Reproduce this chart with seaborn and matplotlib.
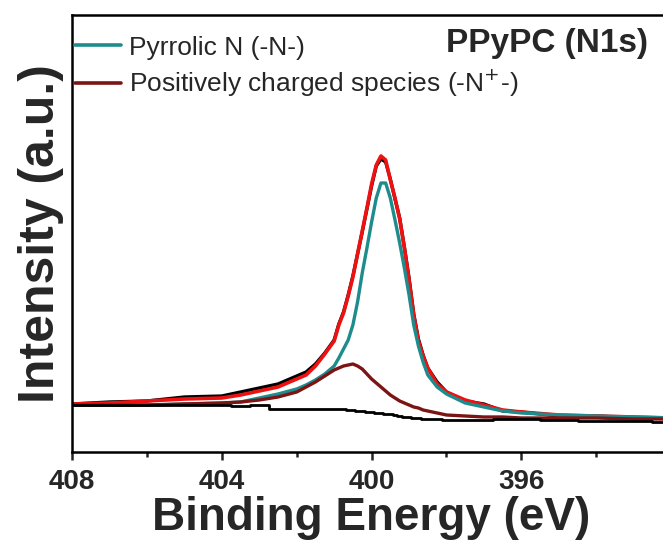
import numpy as np
import pandas as pd
import matplotlib
matplotlib.use("Agg")
import matplotlib.pyplot as plt
import seaborn as sns

# ---- data (intensity in arbitrary units) ----
energy = [408, 407, 406, 405, 404, 403.5, 403, 402.5, 402, 401.75, 401.5, 401.25, 401,
          400.875, 400.75, 400.625, 400.5, 400.375, 400.25, 400.125, 400,
          399.875, 399.75, 399.625, 399.5, 399.375, 399.25, 399.125, 399,
          398.875, 398.75, 398.625, 398.5,
          398.25, 398, 397.5, 397, 396.5, 396, 395, 394, 393, 392]

raw_data = [48, 50, 51, 55, 56, 60, 64, 68, 76, 80, 88, 99, 112,
            128, 140, 157, 176, 198, 220, 243, 266,
            286, 293, 290, 273, 253, 234, 205, 174,
            138, 113, 97, 84,
            70, 60, 51, 48, 41, 40, 36, 36, 34, 34]

envelope = [48, 49, 51, 53, 54, 57, 61, 65, 73, 77, 86, 98, 111,
            127, 139, 156, 175, 198, 221, 244, 268,
            287, 296, 292, 272, 254, 233, 204, 172,
            137, 111, 96, 84,
            68, 60, 52, 47, 42, 40, 37, 36, 35, 34]

pyrrolic = [47, 47, 47, 48, 49, 50, 54, 58, 63, 67, 72, 78, 86,
            94, 103, 112, 127, 150, 179, 204, 230,
            254, 269, 269, 254, 232, 209, 184, 157,
            127, 106, 90, 77,
            65, 58, 49, 45, 41, 39, 37, 36, 35, 34]

positive = [47, 47, 47, 48, 49, 50, 52, 55, 60, 65, 70, 76, 82,
            84, 86, 87, 88, 86, 83, 78, 73,
            69, 65, 61, 57, 54, 51, 49, 47,
            45, 44, 42, 41,
            39, 37, 36, 35, 35, 34, 34, 34, 33, 33]

background = [47, 47, 47, 47, 47, 46, 47, 43, 43, 43, 43, 43, 43,
              43, 43, 42, 42, 41, 41, 40, 40,
              39, 39, 38, 38, 37, 36, 35, 35,
              34, 34, 33, 33,
              33, 32, 32, 32, 33, 33, 32, 31, 31, 30]

legend_labels = ["Pyrrolic N (-N-)", "Positively charged species (-N$^{+}$-)"]
title_text = "PPyPC (N1s)"
x_ticks_major = [408, 404, 400, 396]
x_ticks_minor = [406, 402, 398, 394]

df = pd.DataFrame({"E": energy, "raw": raw_data, "env": envelope,
                   "pyr": pyrrolic, "pos": positive, "bg": background})

# ---- style ----
sns.set_theme(style="ticks")
plt.rcParams["font.family"] = ["Liberation Sans", "DejaVu Sans"]

W, H = 663, 544
fig = plt.figure(figsize=(W / 100, H / 100), dpi=100)
x0_px, x1_px, top_px, bot_px = 72, 670, 15, 452
ax = fig.add_axes([x0_px / W, (H - bot_px) / H, (x1_px - x0_px) / W, (bot_px - top_px) / H])

teal = "#1e8c8c"
darkred = "#7d1414"
red = "#ee1111"

sns.lineplot(data=df, x="E", y="raw", ax=ax, color="black", lw=2.4,
             sort=False, label="_nolegend_")
sns.lineplot(data=df, x="E", y="env", ax=ax, color=red, lw=2.6,
             sort=False, label="_nolegend_")
sns.lineplot(data=df, x="E", y="pyr", ax=ax, color=teal, lw=2.4,
             sort=False, label=legend_labels[0])
sns.lineplot(data=df, x="E", y="pos", ax=ax, color=darkred, lw=2.4,
             sort=False, label=legend_labels[1])
sns.lineplot(data=df, x="E", y="bg", ax=ax, color="black", lw=2.0,
             drawstyle="steps-mid", sort=False, label="_nolegend_")

# axis ranges: 408 eV at left spine, ~37.45 px per eV
px_per_ev = 37.45
ax.set_xlim(408, 408 - (x1_px - x0_px) / px_per_ev)
ax.set_ylim(0, bot_px - top_px)

ax.set_xticks(x_ticks_major)
ax.set_xticklabels([str(t) for t in x_ticks_major])
ax.set_xticks(x_ticks_minor, minor=True)
ax.set_yticks([])
ax.tick_params(axis="x", which="major", direction="out", length=6, width=1.8,
               pad=6, labelsize=20)
ax.tick_params(axis="x", which="minor", direction="out", length=3.5, width=1.8)
for lab in ax.get_xticklabels():
    lab.set_fontweight("bold")

for side in ["left", "bottom", "top"]:
    ax.spines[side].set_visible(True)
    ax.spines[side].set_linewidth(1.8)
    ax.spines[side].set_color("black")
ax.spines["right"].set_visible(False)

ax.set_xlabel("Binding Energy (eV)", fontsize=33, fontweight="bold", labelpad=1)
ax.set_ylabel("Intensity (a.u.)", fontsize=36, fontweight="bold", labelpad=6)

leg = ax.legend(loc="upper left", bbox_to_anchor=(0.005, 0.953), frameon=False,
                handlelength=1.75, handletextpad=0.3, borderpad=0, borderaxespad=0,
                labelspacing=0.3,
                prop={"family": ["Liberation Sans", "DejaVu Sans"], "size": 19})
for line in leg.get_lines():
    line.set_linewidth(2.6)

ax.text((648 - x0_px) / (x1_px - x0_px), 1 - (52 - top_px) / (bot_px - top_px),
        title_text, transform=ax.transAxes, ha="right", va="baseline",
        fontsize=24, fontweight="bold")

fig.savefig("out.png", dpi=100)
